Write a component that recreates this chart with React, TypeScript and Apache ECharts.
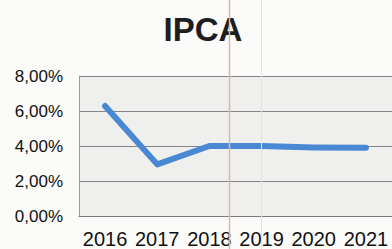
import React, { useEffect, useRef } from "react";
import * as echarts from "echarts";

const categories = ["2016", "2017", "2018", "2019", "2020", "2021"];
const ipcaValues = [6.29, 2.95, 4.0, 4.0, 3.92, 3.9];
const titleText = "IPCA";

export default function App() {
  const ref = useRef<HTMLDivElement>(null);
  useEffect(() => {
    document.body.style.margin = "0";
    const chart = echarts.init(ref.current!, undefined, { renderer: "svg" });
    chart.setOption({
      animation: false,
      backgroundColor: "#fbfbfa",
      textStyle: { fontFamily: "Liberation Sans, Arial, sans-serif" },
      grid: {
        left: 79,
        top: 76,
        bottom: 32,
        right: -5,
        show: true,
        backgroundColor: "#efefee",
        borderWidth: 0,
      },
      graphic: [
        {
          type: "text",
          x: 203,
          y: 29,
          style: {
            text: titleText,
            fill: "#1e1e1e",
            font: "bold 33px 'Liberation Sans', Arial, sans-serif",
            textAlign: "center",
            textVerticalAlign: "middle",
          },
        },
        {
          type: "line",
          z: 100,
          shape: { x1: 229.5, y1: 0, x2: 229.5, y2: 249 },
          style: { stroke: "#d8b9a8", lineWidth: 1.5 },
        },
        {
          type: "line",
          z: 100,
          shape: { x1: 261.5, y1: 0, x2: 261.5, y2: 249 },
          style: { stroke: "#e4e4e0", lineWidth: 1 },
        },
      ],
      xAxis: {
        type: "category",
        data: categories,
        boundaryGap: true,
        axisTick: { show: false },
        axisLine: { show: true, lineStyle: { color: "#7a7a7a", width: 1 } },
        axisLabel: {
          color: "#111",
          fontSize: 20,
          margin: 13,
          interval: 0,
        },
      },
      yAxis: {
        type: "value",
        min: 0,
        max: 8,
        interval: 2,
        axisLine: { show: true, lineStyle: { color: "#9a9a9a", width: 1 } },
        axisTick: { show: false },
        splitLine: { show: true, lineStyle: { color: "#858585", width: 1 } },
        axisLabel: {
          color: "#111",
          fontSize: 17,
          margin: 16,
          formatter: (v: number) => v.toFixed(2).replace(".", ",") + "%",
        },
      },
      series: [
        {
          type: "line",
          data: ipcaValues,
          symbol: "none",
          lineStyle: { color: "#4a88d4", width: 6, cap: "round", join: "round" },
        },
      ],
    });
    return () => chart.dispose();
  }, []);
  return (
    <div
      ref={ref}
      style={{ position: "fixed", left: 0, top: 0, width: 392, height: 249 }}
    />
  );
}
